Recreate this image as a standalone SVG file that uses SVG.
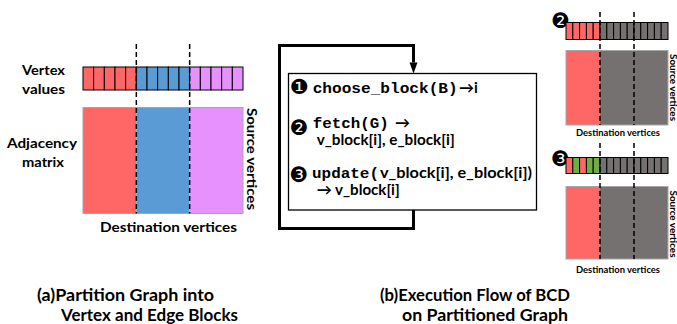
<svg xmlns="http://www.w3.org/2000/svg" width="677" height="324" viewBox="0 0 677 324">
<style>
.lbl{font-family:Lato,'DejaVu Sans',sans-serif;font-weight:bold;fill:#000}
.code{font-family:'Liberation Mono','Courier New',monospace;font-weight:bold;font-size:15px;fill:#000}
.num{font-family:'DejaVu Sans',sans-serif;font-size:21px;fill:#000}
.cell{stroke:#000;stroke-width:1}
.dash{stroke:#000;stroke-width:1.5;stroke-dasharray:5 3;fill:none}
.mat{stroke:#A6A6A6;stroke-width:1;fill:none}
.red{fill:#FF6666}.blue{fill:#5B9BD5}.pur{fill:#E691FF}.gray{fill:#767171}.green{fill:#70AD47}
</style>

<!-- (a) left panel -->
<g id="left-labels">
<text class="lbl" x="22" y="75" font-size="14" textLength="43" lengthAdjust="spacingAndGlyphs">Vertex</text>
<text class="lbl" x="22" y="93.5" font-size="14" textLength="43" lengthAdjust="spacingAndGlyphs">values</text>
<text class="lbl" x="7" y="147.5" font-size="14" textLength="70" lengthAdjust="spacingAndGlyphs">Adjacency</text>
<text class="lbl" x="22" y="167" font-size="14" textLength="42" lengthAdjust="spacingAndGlyphs">matrix</text>
<text class="lbl" x="100" y="231.5" font-size="14" textLength="137" lengthAdjust="spacingAndGlyphs">Destination vertices</text>
<text class="lbl" transform="translate(246.5,159) rotate(90)" x="0" y="0" font-size="14" text-anchor="middle" textLength="102" lengthAdjust="spacingAndGlyphs">Source vertices</text>
</g>
<g id="left-vertex-bar">
<rect class="cell red" x="83" y="67" width="10.667" height="23"/>
<rect class="cell red" x="93.667" y="67" width="10.667" height="23"/>
<rect class="cell red" x="104.333" y="67" width="10.667" height="23"/>
<rect class="cell red" x="115" y="67" width="10.667" height="23"/>
<rect class="cell red" x="125.667" y="67" width="10.667" height="23"/>
<rect class="cell blue" x="136.333" y="67" width="10.667" height="23"/>
<rect class="cell blue" x="147" y="67" width="10.667" height="23"/>
<rect class="cell blue" x="157.667" y="67" width="10.667" height="23"/>
<rect class="cell blue" x="168.333" y="67" width="10.667" height="23"/>
<rect class="cell blue" x="179" y="67" width="10.667" height="23"/>
<rect class="cell pur" x="189.667" y="67" width="10.667" height="23"/>
<rect class="cell pur" x="200.333" y="67" width="10.667" height="23"/>
<rect class="cell pur" x="211" y="67" width="10.667" height="23"/>
<rect class="cell pur" x="221.667" y="67" width="10.667" height="23"/>
<rect class="cell pur" x="232.333" y="67" width="10.667" height="23"/>
</g>
<g id="left-matrix">
<rect class="red" x="83" y="107.5" width="53.333" height="106"/>
<rect class="blue" x="136.333" y="107.5" width="53.333" height="106"/>
<rect class="pur" x="189.667" y="107.5" width="53.333" height="106"/>
<rect class="mat" x="83" y="107.5" width="160" height="106"/>
</g>
<g id="left-dashes">
<line class="dash" x1="136.333" y1="44" x2="136.333" y2="213.5"/>
<line class="dash" x1="189.667" y1="44" x2="189.667" y2="213.5"/>
</g>

<!-- (b) middle panel -->
<g id="connectors">
<path d="M413.5,210 V228.5 H279.5 V45.5 H413.5 V62.5" fill="none" stroke="#000" stroke-width="3" stroke-linejoin="miter"/>
<path d="M409.5,62.5 L417.5,62.5 L413.5,73.5 Z" fill="#000"/>
</g>
<g id="step-box">
<rect x="288.5" y="73.5" width="248" height="136.5" fill="#fff" stroke="#000" stroke-width="1.3"/>
<text class="num" x="289.5" y="94">❶</text>
<text class="code" x="312.7" y="93" textLength="145" lengthAdjust="spacingAndGlyphs">choose_block(B)</text>
<text class="lbl" x="459" y="93" font-size="15">→i</text>
<text class="num" x="289.5" y="135">❷</text>
<text class="code" x="312.7" y="128" textLength="76" lengthAdjust="spacingAndGlyphs">fetch(G)</text>
<text class="lbl" x="395" y="128" font-size="15">→</text>
<text class="lbl" x="316.7" y="144.5" font-size="15" textLength="138" lengthAdjust="spacingAndGlyphs">v_block[i], e_block[i]</text>
<text class="num" x="289.5" y="182">❸</text>
<text class="code" x="312" y="177.5" textLength="67" lengthAdjust="spacingAndGlyphs">update(</text>
<text class="lbl" x="380" y="177.5" font-size="15" textLength="152" lengthAdjust="spacingAndGlyphs">v_block[i], e_block[i])</text>
<text class="lbl" x="316.7" y="194.5" font-size="15" textLength="83" lengthAdjust="spacingAndGlyphs">→ v_block[i]</text>
</g>

<!-- right panel step 2 -->
<g id="step2-state">
<text class="num" x="551" y="28" font-size="18">❷</text>
<rect class="cell red" x="566" y="22.5" width="6.8" height="17"/>
<rect class="cell red" x="572.8" y="22.5" width="6.8" height="17"/>
<rect class="cell red" x="579.6" y="22.5" width="6.8" height="17"/>
<rect class="cell red" x="586.4" y="22.5" width="6.8" height="17"/>
<rect class="cell red" x="593.2" y="22.5" width="6.8" height="17"/>
<rect class="cell gray" x="600" y="22.5" width="6.8" height="17"/>
<rect class="cell gray" x="606.8" y="22.5" width="6.8" height="17"/>
<rect class="cell gray" x="613.6" y="22.5" width="6.8" height="17"/>
<rect class="cell gray" x="620.4" y="22.5" width="6.8" height="17"/>
<rect class="cell gray" x="627.2" y="22.5" width="6.8" height="17"/>
<rect class="cell gray" x="634" y="22.5" width="6.8" height="17"/>
<rect class="cell gray" x="640.8" y="22.5" width="6.8" height="17"/>
<rect class="cell gray" x="647.6" y="22.5" width="6.8" height="17"/>
<rect class="cell gray" x="654.4" y="22.5" width="6.8" height="17"/>
<rect class="cell gray" x="661.2" y="22.5" width="6.8" height="17"/>
<rect class="red" x="566" y="50.5" width="34" height="74.5"/>
<rect class="gray" x="600" y="50.5" width="68" height="74.5"/>
<rect class="mat" x="566" y="50.5" width="102" height="74.5"/>
<line class="dash" x1="600" y1="12" x2="600" y2="125"/>
<line class="dash" x1="634" y1="12" x2="634" y2="125"/>
<text class="lbl" x="576" y="136" font-size="9" textLength="84" lengthAdjust="spacingAndGlyphs">Destination vertices</text>
<text class="lbl" transform="translate(669.5,87.5) rotate(90)" x="0" y="0" font-size="9" text-anchor="middle" textLength="67" lengthAdjust="spacingAndGlyphs">Source vertices</text>
</g>

<!-- right panel step 3 -->
<g id="step3-state">
<text class="num" x="551" y="166" font-size="18">❸</text>
<rect class="cell red" x="566" y="157.5" width="6.8" height="16"/>
<rect class="cell green" x="572.8" y="157.5" width="6.8" height="16"/>
<rect class="cell red" x="579.6" y="157.5" width="6.8" height="16"/>
<rect class="cell green" x="586.4" y="157.5" width="6.8" height="16"/>
<rect class="cell green" x="593.2" y="157.5" width="6.8" height="16"/>
<rect class="cell gray" x="600" y="157.5" width="6.8" height="16"/>
<rect class="cell gray" x="606.8" y="157.5" width="6.8" height="16"/>
<rect class="cell gray" x="613.6" y="157.5" width="6.8" height="16"/>
<rect class="cell gray" x="620.4" y="157.5" width="6.8" height="16"/>
<rect class="cell gray" x="627.2" y="157.5" width="6.8" height="16"/>
<rect class="cell gray" x="634" y="157.5" width="6.8" height="16"/>
<rect class="cell gray" x="640.8" y="157.5" width="6.8" height="16"/>
<rect class="cell gray" x="647.6" y="157.5" width="6.8" height="16"/>
<rect class="cell gray" x="654.4" y="157.5" width="6.8" height="16"/>
<rect class="cell gray" x="661.2" y="157.5" width="6.8" height="16"/>
<rect class="red" x="566" y="186.5" width="34" height="72.5"/>
<rect class="gray" x="600" y="186.5" width="68" height="72.5"/>
<rect class="mat" x="566" y="186.5" width="102" height="72.5"/>
<line class="dash" x1="600" y1="143" x2="600" y2="259"/>
<line class="dash" x1="634" y1="143" x2="634" y2="259"/>
<text class="lbl" x="576" y="273" font-size="9" textLength="84" lengthAdjust="spacingAndGlyphs">Destination vertices</text>
<text class="lbl" transform="translate(669.5,224) rotate(90)" x="0" y="0" font-size="9" text-anchor="middle" textLength="67" lengthAdjust="spacingAndGlyphs">Source vertices</text>
</g>

<!-- captions -->
<g id="captions">
<text class="lbl" x="37" y="301" font-size="17" textLength="177" lengthAdjust="spacingAndGlyphs">(a)Partition Graph into</text>
<text class="lbl" x="61" y="321" font-size="17" textLength="177" lengthAdjust="spacingAndGlyphs">Vertex and Edge Blocks</text>
<text class="lbl" x="380" y="301" font-size="17" textLength="190" lengthAdjust="spacingAndGlyphs">(b)Execution Flow of BCD</text>
<text class="lbl" x="402" y="321" font-size="17" textLength="166" lengthAdjust="spacingAndGlyphs">on Partitioned Graph</text>
</g>
</svg>
